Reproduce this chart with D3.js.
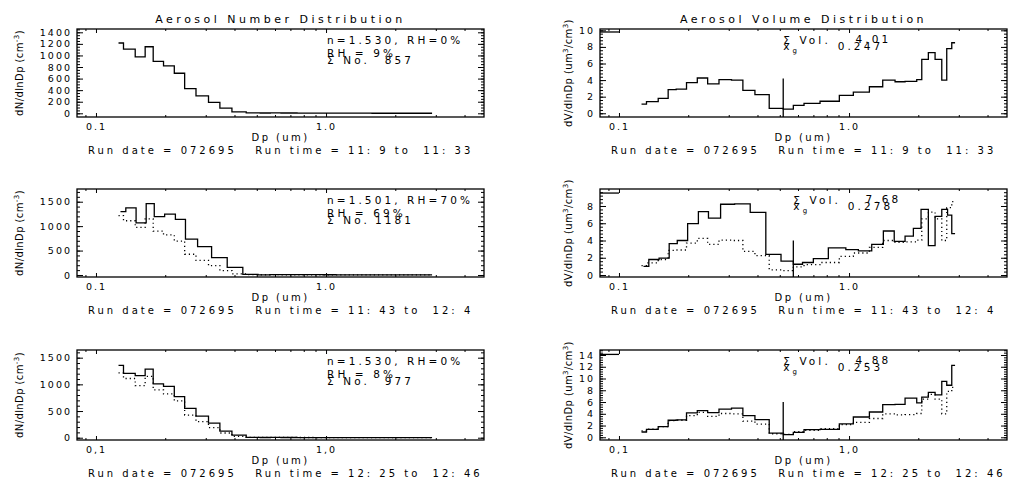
<!DOCTYPE html>
<html>
<head>
<meta charset="utf-8">
<title>Aerosol distributions</title>
<script src="https://cdn.jsdelivr.net/npm/d3@7"></script>
<style>
    body { margin: 0; background: #fff; }
    text { font-family: "DejaVu Sans", sans-serif; fill: #000; white-space: pre; }
    .title { font-size: 11px; letter-spacing: 3.5px; }
    .tick text { font-size: 9.5px; letter-spacing: 2px; }
    .lbl { font-size: 10px; letter-spacing: 2.4px; }
    .run { font-size: 10px; letter-spacing: 3px; }
    .ann { font-size: 10.5px; letter-spacing: 3.1px; }
    .ytitle { font-size: 10px; letter-spacing: 0.4px; }
    .frame { fill: none; stroke: #000; stroke-width: 1.3; }
    .tick line { stroke: #000; stroke-width: 1; }
    .domain { display: none; }
    .solid { fill: none; stroke: #000; stroke-width: 1.3; }
    .dotted { fill: none; stroke: #000; stroke-width: 1.3; stroke-dasharray: 1.2 3; }
</style>
</head>
<body>
<svg id="chart" width="1010" height="480"></svg>
<script>
// size bin edges (um); dry = RH ~0-9 % runs, wet = RH 70 % run
var dryEdges = [0.1253, 0.1317, 0.1481, 0.1636, 0.1773, 0.1966, 0.2190, 0.2429, 0.2721, 0.3084,
    0.3456, 0.3899, 0.4498, 0.5175, 0.5726, 0.6373, 0.7481, 0.9075, 1.044, 1.226,
    1.401, 1.585, 1.752, 1.969, 2.071, 2.212, 2.366, 2.530, 2.659, 2.796, 2.890];
var wetEdges = [0.1278, 0.1348, 0.1494, 0.1653, 0.1792, 0.1988, 0.2214, 0.2449, 0.2765, 0.3181,
    0.3719, 0.4348, 0.5062, 0.5726, 0.6278, 0.6997, 0.8129, 0.9685, 1.098, 1.255,
    1.410, 1.572, 1.752, 1.904, 2.056, 2.212, 2.366, 2.530, 2.681, 2.796, 2.890];
var dmaBins = 13;   // first 13 bins are DMA, the rest OPC

// dN/dlnDp (cm-3)
var num1 = [1215, 1110, 975, 1150, 897, 820, 692, 425, 300, 190, 88, 25, 6,
    5, 6, 5, 4, 3, 2, 2, 1.5, 1, 1, 1, 1, 0.5, 0.5, 0.5, 0.5, 0.5];
var num2 = [1295, 1375, 1065, 1462, 1193, 1245, 1138, 736, 579, 354, 157, 14, 3,
    9, 8, 7, 6, 5, 3, 2, 2, 2, 1, 1, 1, 1, 1, 1, 1, 0.5];
var num3 = [1355, 1206, 1165, 1284, 1010, 962, 769, 550, 406, 275, 122, 50, 8,
    4, 5, 4, 3, 3, 2, 2, 2, 1.5, 1, 1, 1, 1, 1, 1, 1, 1];

// dV/dlnDp (um3/cm3)
var vol1 = [1.1, 1.4, 1.8, 2.85, 2.9, 3.7, 4.25, 3.55, 4.05, 4.0, 2.75, 2.25, 0.6,
    0.5, 0.95, 1.2, 1.45, 2.15, 2.55, 3.2, 4.0, 3.8, 3.85, 4.05, 6.5, 7.3, 6.5, 4.0, 7.8, 8.5];
var vol2 = [1.0, 1.8, 1.95, 3.65, 4.0, 5.95, 7.35, 6.6, 8.2, 8.25, 7.25, 2.4, 1.6,
    1.25, 1.45, 1.9, 3.15, 2.95, 2.8, 3.55, 5.1, 3.9, 4.5, 5.4, 7.6, 3.4, 6.8, 7.6, 6.95, 4.8];
var vol3 = [0.9, 1.35, 1.8, 2.9, 2.95, 4.15, 4.55, 4.2, 4.8, 4.95, 3.7, 3.0, 0.7,
    0.45, 0.84, 1.3, 1.35, 2.3, 3.45, 4.3, 5.55, 5.6, 6.65, 5.85, 6.85, 7.65, 7.2, 9.5, 8.85, 12.25];

var cutTop = [4.2, 4.0, 6.0];        // height of the DMA/OPC marker line
var rangeMark = [9.8, 9.5, 14.1];    // short mark at upper left of volume plots

var numTicks = [[0, 200, 400, 600, 800, 1000, 1200, 1400], [0, 500, 1000, 1500], [0, 500, 1000, 1500]];
var volTicks = [[0, 2, 4, 6, 8, 10], [0, 2, 4, 6, 8], [0, 2, 4, 6, 8, 10, 12, 14]];
var xTickLabels = [['0.1', '1.0'], ['0.1', '1.0'], ['0,1', '1,0']];

var setups = ['n=1.530, RH=0%', 'n=1.501, RH=70%', 'n=1.530, RH=0%'];
var rhText = ['RH = 9%', 'RH = 69%', 'RH = 8%'];
var totalNo = ['857', '1181', '977'];
var totalVol = ['4.01', '7.68', '4.88'];
var xgVal = ['0.247', '0.278', '0.253'];
var runTimes = ['11: 9 to  11: 33', '11: 43 to  12: 4', '12: 25 to  12: 46'];

// layout
var numLeft = 77, volLeft = 600, boxW = 407;
var rowBox = [[29, 117], [189, 277], [350, 440]];
var numDomains = [[-64, 1457], [-41, 1760], [-43, 1644]];
var volDomains = [[-0.45, 10.16], [-0.23, 9.97], [-0.46, 14.85]];
var xDomain = [0.0827, 4.86];

var svg = d3.select('#chart');

function steps(edges, vals) {
    var pts = [];
    vals.forEach(function (v, i) {
        pts.push([edges[i], v]);
        pts.push([edges[i + 1], v]);
    });
    return pts;
}

function minorLog(dom) {
    var out = [];
    [0.01, 0.1, 1].forEach(function (dec) {
        for (var k = 2; k <= 9; k++) {
            var v = dec * k;
            if (v >= dom[0] && v <= dom[1]) out.push(v);
        }
    });
    return out;
}

function minorLin(dom, step) {
    return d3.range(0, dom[1], step).filter(function (v) { return v >= dom[0]; });
}

function drawPanel(o) {
    var g = svg.append('g');
    var x = d3.scaleLog().domain(xDomain).range([o.left, o.left + boxW]);
    var y = d3.scaleLinear().domain(o.ydom).range([o.bottom, o.top]);

    // axes, ticks pointing inward on all four sides
    g.append('g').attr('transform', 'translate(' + o.left + ',0)')
        .call(d3.axisLeft(y).tickValues(o.yticks).tickSize(-6).tickPadding(5).tickFormat(d3.format('d')));
    g.append('g').attr('transform', 'translate(' + o.left + ',0)')
        .call(d3.axisLeft(y).tickValues(minorLin(o.ydom, o.yminor)).tickSize(-3).tickFormat(''));
    g.append('g').attr('transform', 'translate(' + (o.left + boxW) + ',0)')
        .call(d3.axisRight(y).tickValues(o.yticks).tickSize(-6).tickFormat(''));
    g.append('g').attr('transform', 'translate(' + (o.left + boxW) + ',0)')
        .call(d3.axisRight(y).tickValues(minorLin(o.ydom, o.yminor)).tickSize(-3).tickFormat(''));

    g.append('g').attr('transform', 'translate(0,' + o.bottom + ')')
        .call(d3.axisBottom(x).tickValues([0.1, 1]).tickSize(-4).tickPadding(6)
            .tickFormat(function (d, i) { return o.xlabels[i]; }));
    g.append('g').attr('transform', 'translate(0,' + o.bottom + ')')
        .call(d3.axisBottom(x).tickValues(minorLog(xDomain)).tickSize(-2).tickFormat(''));
    g.append('g').attr('transform', 'translate(0,' + o.top + ')')
        .call(d3.axisTop(x).tickValues([0.1, 1]).tickSize(-4).tickFormat(''));
    g.append('g').attr('transform', 'translate(0,' + o.top + ')')
        .call(d3.axisTop(x).tickValues(minorLog(xDomain)).tickSize(-2).tickFormat(''));

    g.selectAll('.tick text').attr('font-family', null).attr('font-size', null);

    g.append('rect').attr('class', 'frame')
        .attr('x', o.left).attr('y', o.top).attr('width', boxW).attr('height', o.bottom - o.top);

    var line = d3.line().x(function (d) { return x(d[0]); }).y(function (d) { return y(d[1]); });
    if (o.dotted) {
        g.append('path').attr('class', 'dotted').attr('d', line(steps(o.dotted.edges, o.dotted.vals)));
    }
    g.append('path').attr('class', 'solid').attr('d', line(steps(o.edges, o.vals)));

    // x label and run line
    g.append('text').attr('class', 'lbl').attr('x', o.left + boxW / 2).attr('y', o.bottom + 24)
        .attr('text-anchor', 'middle').text('Dp (um)');
    g.append('text').attr('class', 'run').attr('x', o.left + 11).attr('y', o.bottom + 37)
        .text('Run date = 072695   Run time = ' + o.run);

    if (o.title) {
        g.append('text').attr('class', 'title').attr('x', o.left + boxW / 2).attr('y', o.top - 6)
            .attr('text-anchor', 'middle').text(o.title);
    }
    return { g: g, x: x, y: y };
}

function drawRow(r) {
    var rowTop = rowBox[r][0], rowBottom = rowBox[r][1];
    var edges = r === 1 ? wetEdges : dryEdges;
    var nums = [num1, num2, num3][r];
    var vols = [vol1, vol2, vol3][r];
    var cut = edges[dmaBins];

    // number distribution
    var p = drawPanel({
        left: numLeft, top: rowTop, bottom: rowBottom, ydom: numDomains[r],
        yticks: numTicks[r], yminor: r === 0 ? 50 : 100, xlabels: xTickLabels[r],
        edges: edges, vals: nums, run: runTimes[r],
        dotted: r > 0 ? { edges: dryEdges, vals: num1 } : null,
        title: r === 0 ? 'Aerosol Number Distribution' : null
    });
    var yt = p.g.append('text').attr('class', 'ytitle')
        .attr('transform', 'translate(' + (numLeft - 54) + ',' + ((rowTop + rowBottom) / 2) + ') rotate(-90)')
        .attr('text-anchor', 'middle');
    yt.append('tspan').text('dN/dlnDp (cm');
    yt.append('tspan').attr('dy', -4).attr('font-size', '7px').text('-3');
    yt.append('tspan').attr('dy', 4).text(')');

    var ax = numLeft + 250;
    p.g.append('text').attr('class', 'ann').attr('x', ax).attr('y', rowTop + 15).text(setups[r]);
    p.g.append('text').attr('class', 'ann').attr('x', ax).attr('y', rowTop + 28).text(rhText[r]);
    p.g.append('text').attr('class', 'ann').attr('x', ax).attr('y', rowTop + 35).text('\u03A3 No.');
    p.g.append('text').attr('class', 'ann').attr('x', numLeft + 337).attr('y', rowTop + 35)
        .attr('text-anchor', 'end').text(totalNo[r]);

    // volume distribution
    var q = drawPanel({
        left: volLeft, top: rowTop, bottom: rowBottom, ydom: volDomains[r],
        yticks: volTicks[r], yminor: 0.4, xlabels: xTickLabels[r],
        edges: edges, vals: vols, run: runTimes[r],
        dotted: r > 0 ? { edges: dryEdges, vals: vol1 } : null,
        title: r === 0 ? 'Aerosol Volume Distribution' : null
    });
    q.g.append('line').attr('class', 'solid')
        .attr('x1', q.x(cut)).attr('x2', q.x(cut))
        .attr('y1', q.y(cutTop[r])).attr('y2', q.y(volDomains[r][0]));
    q.g.append('line').attr('class', 'solid')
        .attr('x1', q.x(xDomain[0])).attr('x2', q.x(0.1))
        .attr('y1', q.y(rangeMark[r])).attr('y2', q.y(rangeMark[r]));

    var vt = q.g.append('text').attr('class', 'ytitle')
        .attr('transform', 'translate(' + (volLeft - 28) + ',' + ((rowTop + rowBottom) / 2) + ') rotate(-90)')
        .attr('text-anchor', 'middle');
    vt.append('tspan').text('dV/dlnDp (um');
    vt.append('tspan').attr('dy', -4).attr('font-size', '7px').text('3');
    vt.append('tspan').attr('dy', 4).text('/cm');
    vt.append('tspan').attr('dy', -4).attr('font-size', '7px').text('3');
    vt.append('tspan').attr('dy', 4).text(')');

    var cx = q.x(cut);
    q.g.append('text').attr('class', 'ann').attr('x', cx).attr('y', rowTop + 15).text('\u03A3 Vol.');
    q.g.append('text').attr('class', 'ann').attr('x', cx + 108).attr('y', rowTop + 14)
        .attr('text-anchor', 'end').text(totalVol[r]);
    var xg = q.g.append('text').attr('class', 'ann').attr('x', cx).attr('y', rowTop + 21);
    xg.append('tspan').text('x');
    xg.append('tspan').attr('dy', 3).attr('font-size', '7px').text('g');
    q.g.append('text').attr('class', 'ann').attr('x', cx + 100).attr('y', rowTop + 21)
        .attr('text-anchor', 'end').text(xgVal[r]);
}

[0, 1, 2].forEach(drawRow);
</script>
</body>
</html>
